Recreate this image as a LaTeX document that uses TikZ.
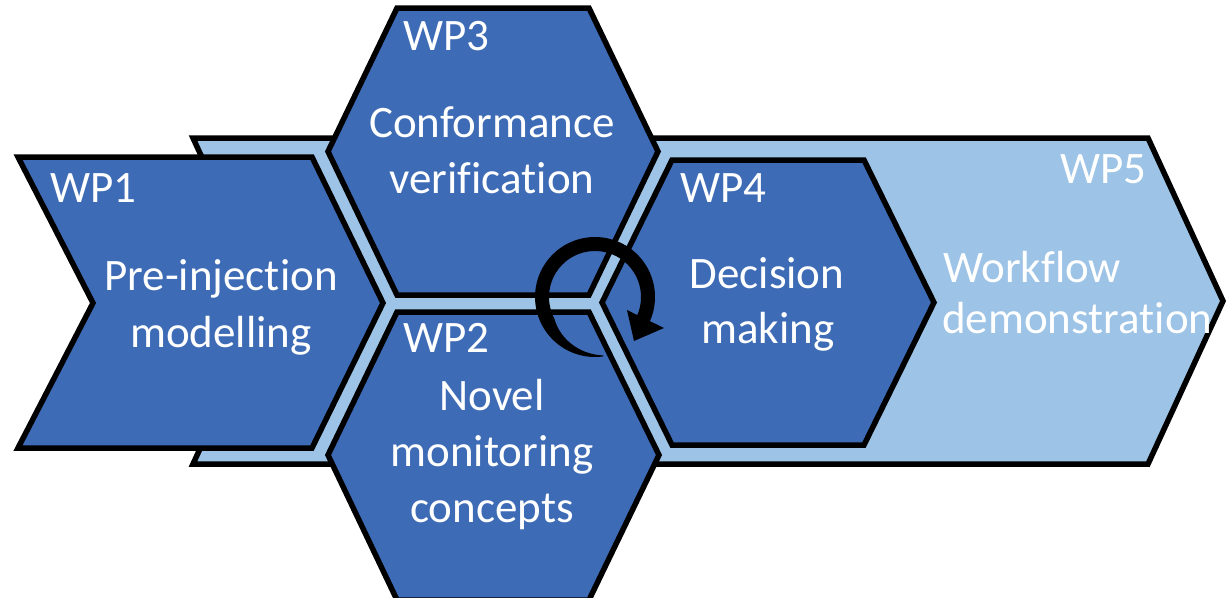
\documentclass[tikz,border=0pt]{standalone}
\usepackage{fontspec}
\setmainfont{Carlito}[Ligatures=NoCommon]
\definecolor{wpdark}{HTML}{3D6BB5}
\definecolor{wplight}{HTML}{9DC3E6}
\newcommand\wpfont{\fontsize{45}{52}\selectfont}
\begin{document}
\begin{tikzpicture}[x=1pt,y=-1pt,
  darkshape/.style={fill=wpdark,draw=black,line width=5.5pt,line join=miter},
  lightshape/.style={fill=wplight,draw=black,line width=5.5pt,line join=miter},
  txt/.style={text=white,font=\wpfont,inner sep=0pt}]
\useasboundingbox (0,0) rectangle (1226,597);
% WP5 background chevron
\path[lightshape] (193,138) -- (1148,138) -- (1223,301) -- (1148,464) -- (193,464) -- (268,301) -- cycle;
% WP1 chevron
\path[darkshape] (18,157) -- (312,157) -- (383,303) -- (312,448) -- (18,448) -- (93,303) -- cycle;
% WP3 hexagon
\path[darkshape] (397,8) -- (589,8) -- (658,151.5) -- (589,295) -- (397,295) -- (328,151.5) -- cycle;
% WP2 hexagon
\path[darkshape] (397,312) -- (589,312) -- (659,455) -- (589,600) -- (397,600) -- (328,455) -- cycle;
% WP4 hexagon
\path[darkshape] (672,160) -- (864,160) -- (934,302.5) -- (864,445) -- (672,445) -- (602,302.5) -- cycle;
% circular arrow
\fill[black] plot[domain=82:385,samples=80] ({595+60*cos(\x)},{297+60*sin(\x)})
  -- plot[domain=385:82,samples=80] ({595+(60-min(14,1+13*(\x-82)/70))*cos(\x)},{297+(60-min(14,1+13*(\x-82)/70))*sin(\x)}) -- cycle;
\fill[black] (627,310) -- (664,328) -- (634,341) -- cycle;
% texts
\node[txt,anchor=base west] (l1) at (50,202) {WP1};
\node[txt,anchor=base] (t1a) at (221,290) {Pre-injection};
\node[txt,anchor=base] (t1b) at (221,347) {modelling};
\node[txt,anchor=base west] (l3) at (403,50) {WP3};
\node[txt,anchor=base] (t3a) at (492,137) {Conformance};
\node[txt,anchor=base] (t3b) at (492,193) {verification};
\node[txt,anchor=base west] (l2) at (403,352) {WP2};
\node[txt,anchor=base] (t2a) at (492,410) {Novel};
\node[txt,anchor=base] (t2b) at (492,466) {monitoring};
\node[txt,anchor=base] (t2c) at (492,522) {concepts};
\node[txt,anchor=base west] (l4) at (680,202) {WP4};
\node[txt,anchor=base] (t4a) at (767,288) {Decision};
\node[txt,anchor=base] (t4b) at (768,343) {making};
\node[txt,anchor=base west] (l5) at (1060,183) {WP5};
\node[txt,anchor=base west] (t5a) at (943,282) {Workflow};
\node[txt,anchor=base west] (t5b) at (942,333) {demonstration};
\end{tikzpicture}
\end{document}
